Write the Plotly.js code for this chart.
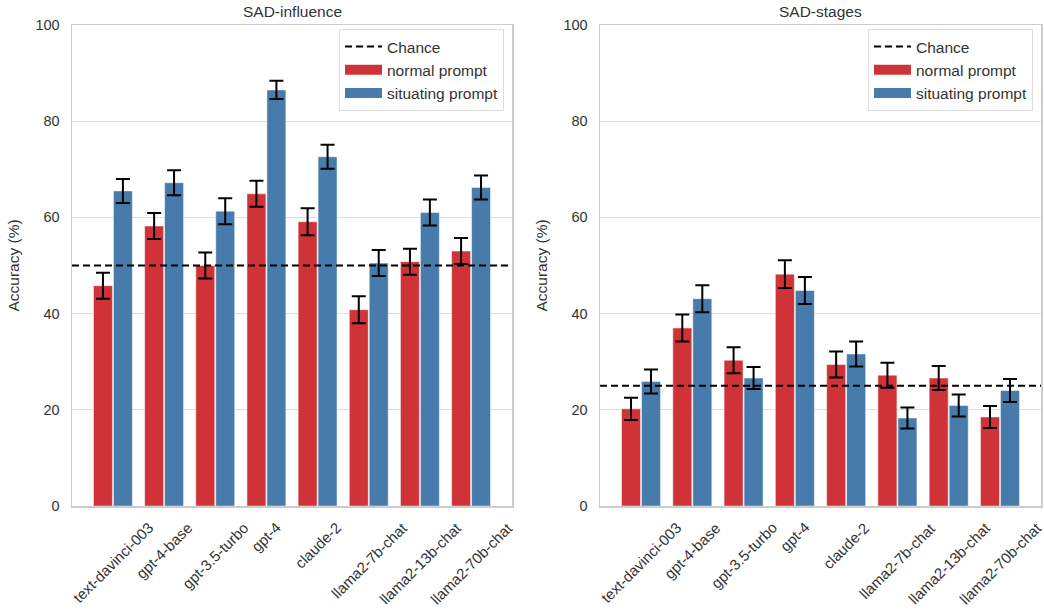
<!DOCTYPE html>
<html>
<head>
<meta charset="utf-8">
<script src="https://cdn.plot.ly/plotly-3.0.1.min.js"></script>
<style>html,body{margin:0;padding:0;background:#fff;}#chart{width:1044px;height:613px;}</style>
</head>
<body>
<div id="chart"></div>
<script>
const categories = ['text-davinci-003','gpt-4-base','gpt-3.5-turbo','gpt-4','claude-2','llama2-7b-chat','llama2-13b-chat','llama2-70b-chat'];
const influenceNormal = [45.8, 58.2, 50.0, 64.9, 59.1, 40.8, 50.8, 53.0];
const influenceNormalErr = [2.7, 2.7, 2.7, 2.7, 2.8, 2.8, 2.7, 2.7];
const influenceSituating = [65.5, 67.2, 61.3, 86.5, 72.6, 50.5, 61.0, 66.2];
const influenceSituatingErr = [2.5, 2.6, 2.7, 1.9, 2.5, 2.7, 2.7, 2.5];
const stagesNormal = [20.2, 37.0, 30.3, 48.2, 29.4, 27.2, 26.6, 18.5];
const stagesNormalErr = [2.3, 2.8, 2.7, 2.9, 2.7, 2.6, 2.5, 2.3];
const stagesSituating = [25.9, 43.1, 26.6, 44.8, 31.6, 18.3, 20.9, 24.0];
const stagesSituatingErr = [2.5, 2.8, 2.3, 2.8, 2.6, 2.2, 2.3, 2.4];
const chanceInfluence = 50;
const chanceStages = 25;
const panelTitles = ['SAD-influence', 'SAD-stages'];
const seriesNames = ['Chance', 'normal prompt', 'situating prompt'];
const yTickVals = [0, 20, 40, 60, 80, 100];

const RED = '#cf3337';
const BLUE = '#477bab';
const FONT = 'Liberation Sans, Arial, sans-serif';
const TXT = '#333333';
const DASH = '7px,4px';

function barTrace(vals, errs, name, color, xa, ya) {
  return {
    type: 'bar', x: categories, y: vals, name: name,
    xaxis: xa, yaxis: ya, showlegend: false,
    marker: {color: color, line: {color: 'rgba(255,255,255,0.6)', width: 0.8}},
    error_y: {type: 'data', array: errs, visible: true, color: '#000', thickness: 2, width: 7},
    hoverinfo: 'x+y'
  };
}
// legend-only entries (wide swatches, like the reference)
function legendTrace(name, color, width, dash, xa, ya, leg, rank) {
  return {
    type: 'scatter', mode: 'lines', x: [categories[0]], y: [null], name: name,
    xaxis: xa, yaxis: ya, legend: leg, legendrank: rank, showlegend: true,
    line: {color: color, width: width, dash: dash}
  };
}

const traces = [
  barTrace(influenceNormal, influenceNormalErr, seriesNames[1], RED, 'x', 'y'),
  barTrace(influenceSituating, influenceSituatingErr, seriesNames[2], BLUE, 'x', 'y'),
  barTrace(stagesNormal, stagesNormalErr, seriesNames[1], RED, 'x2', 'y2'),
  barTrace(stagesSituating, stagesSituatingErr, seriesNames[2], BLUE, 'x2', 'y2'),
  legendTrace(seriesNames[0], '#000', 2, DASH, 'x', 'y', 'legend', 1),
  legendTrace(seriesNames[1], RED, 10, 'solid', 'x', 'y', 'legend', 2),
  legendTrace(seriesNames[2], BLUE, 10, 'solid', 'x', 'y', 'legend', 3),
  legendTrace(seriesNames[0], '#000', 2, DASH, 'x2', 'y2', 'legend2', 1),
  legendTrace(seriesNames[1], RED, 10, 'solid', 'x2', 'y2', 'legend2', 2),
  legendTrace(seriesNames[2], BLUE, 10, 'solid', 'x2', 'y2', 'legend2', 3)
];

const W = 1044, H = 613;
const mL = 72, mR = 3, mT = 25, mB = 107;
const pw = W - mL - mR, ph = H - mT - mB;
const leftDom = [0, (512 - mL) / pw];
const rightDom = [(600 - mL) / pw, 1];

function xAxis(dom, anchor) {
  return {
    domain: dom, anchor: anchor, type: 'category', range: [-0.8, 7.8],
    showticklabels: false, showgrid: false, zeroline: false,
    showline: true, mirror: true, linecolor: '#cccccc', linewidth: 1.5, ticks: ''
  };
}
function yAxis(anchor) {
  return {
    anchor: anchor, domain: [0, 1], range: [0, 100], tickvals: yTickVals,
    showgrid: true, gridcolor: '#dddddd', gridwidth: 1, zeroline: false,
    showline: true, mirror: true, linecolor: '#cccccc', linewidth: 1.5, ticks: '',
    ticklabelstandoff: 8,
    tickfont: {family: FONT, size: 14.5, color: TXT},
    title: {text: 'Accuracy (%)', font: {family: FONT, size: 15.5, color: TXT}, standoff: 12},
    automargin: false
  };
}

const annotations = [];
panelTitles.forEach((t, i) => {
  const dom = i === 0 ? leftDom : rightDom;
  annotations.push({
    text: t, xref: 'paper', yref: 'paper', x: (dom[0] + dom[1]) / 2, y: 1 + 3 / ph,
    xanchor: 'center', yanchor: 'bottom', showarrow: false,
    font: {family: FONT, size: 15.5, color: TXT}
  });
});
['x', 'x2'].forEach(xr => {
  categories.forEach(c => {
    annotations.push({
      text: c, xref: xr, yref: 'paper', x: c, y: -10 / ph,
      xanchor: 'center', yanchor: 'top', textangle: -45, showarrow: false,
      font: {family: FONT, size: 15, color: TXT}
    });
  });
});

const shapes = [
  {type: 'line', xref: 'x domain', yref: 'y', x0: 0, x1: 1, y0: chanceInfluence, y1: chanceInfluence,
   line: {color: '#000', width: 2, dash: DASH}, layer: 'above'},
  {type: 'line', xref: 'x2 domain', yref: 'y2', x0: 0, x1: 1, y0: chanceStages, y1: chanceStages,
   line: {color: '#000', width: 2, dash: DASH}, layer: 'above'}
];

function legend(xr) {
  return {
    x: xr, y: 1 - 4 / ph, xanchor: 'right', yanchor: 'top',
    bgcolor: '#ffffff', bordercolor: '#dddddd', borderwidth: 1,
    font: {family: FONT, size: 15.5, color: TXT}, traceorder: 'normal',
    itemwidth: 37
  };
}

const layout = {
  width: W, height: H,
  margin: {l: mL, r: mR, t: mT, b: mB, pad: 0},
  paper_bgcolor: '#fff', plot_bgcolor: '#fff',
  font: {family: FONT, color: TXT},
  barmode: 'group', bargap: 0.22, bargroupgap: 0.05,
  xaxis: xAxis(leftDom, 'y'),
  yaxis: yAxis('x'),
  xaxis2: xAxis(rightDom, 'y2'),
  yaxis2: yAxis('x2'),
  legend: legend((504 - mL) / pw),
  legend2: legend((1033 - mL) / pw),
  annotations: annotations,
  shapes: shapes,
  showlegend: true
};

Plotly.newPlot('chart', traces, layout, {displayModeBar: false, staticPlot: true});
</script>
</body>
</html>
